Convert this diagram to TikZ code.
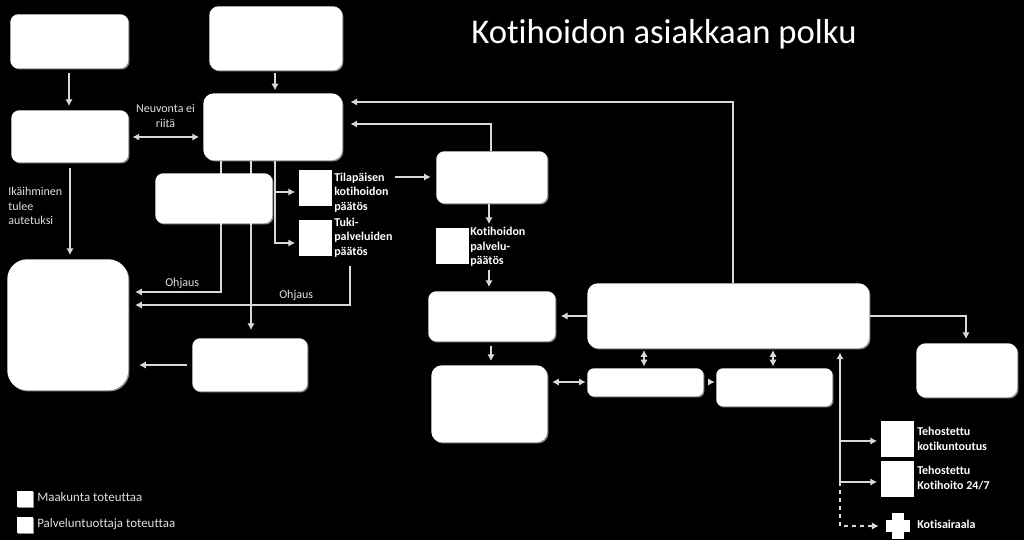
\documentclass[tikz,border=0pt]{standalone}
\usepackage{fontspec}
\setmainfont[Ligatures=NoCommon]{Carlito}
\usetikzlibrary{positioning,arrows.meta,calc,shadows}

\begin{document}
\begin{tikzpicture}[>={Latex[length=5pt,width=5.5pt]},
  x=0.75pt,y=-0.75pt,
  box/.style={fill=white,anchor=north west,inner sep=0pt,
    drop shadow={shadow xshift=0.9pt,shadow yshift=-0.9pt,fill=white,opacity=.55}},
  sq/.style={fill=white,anchor=north west,inner sep=0pt},
  lbl/.style={text=white!88!black,align=left,anchor=north west,inner sep=0pt,
    font=\fontsize{9}{10.9}\selectfont},
  bld/.style={lbl,text=white,font=\fontsize{9}{10.9}\selectfont\bfseries},
  line/.style={draw=white!85!black,line width=0.85pt},
  flow/.style={line,->,shorten >=3pt}]
\path[fill=black,use as bounding box] (0,0) rectangle (1024,540);
\node[text=white,font=\fontsize{26}{30}\selectfont,inner sep=0pt] (title) at (664,34) {Kotihoidon asiakkaan polku};
% boxes
\foreach \nm/\x/\y/\w/\h/\r in {alku/10/14/118/54/6pt, yhte/209/6/133/64/7pt,
  neuv/11/110/117/52/6pt, arvi/203/93/139/67/8pt, koti/7/259/121/131/15pt,
  muut/192/338/115/53/6pt, tila/436/151/111/52/6pt, suun/428/291/127/50/6pt,
  asia/431/365/116/77/8pt, toim/587/368/116/28/5pt, yksi/716/368/116/38/5pt,
  hoit/587/283/282/65/8pt, sair/916/343/101/54/7pt}{
  \node[box,rounded corners=\r,minimum width=\w*0.75pt,minimum height=\h*0.75pt] (\nm) at (\x,\y) {};
}
\foreach \nm/\x/\y in {ptila/299/170, ptuki/299/220, ppalv/436/228, pkunt/881/421, pkoti/881/461}{
  \node[sq,minimum width=24.5pt,minimum height=27pt] (\nm) at (\x,\y) {};
}
% labels
\node[lbl,align=center,anchor=north] (lneuv) at (165.5,104) {Neuvonta ei\\riitä};
\node[lbl] (lauto) at (8,187) {Ikäihminen\\tulee\\autetuksi};
\node[lbl] (lohj1) at (165,278) {Ohjaus};
\node[lbl] (lohj2) at (279,290) {Ohjaus};
\node[bld] (ltila) at (334,172.5) {Tilapäisen\\kotihoidon\\päätös};
\node[bld] (ltuki) at (334,217.5) {Tuki-\\palveluiden\\päätös};
\node[bld] (lpalv) at (470,227) {Kotihoidon\\palvelu-\\päätös};
\node[bld] (lkunt) at (917,427) {Tehostettu\\kotikuntoutus};
\node[bld] (lkoti) at (917,466) {Tehostettu\\Kotihoito 24/7};
\node[bld] (lsair) at (917,520) {Kotisairaala};
% bends
\coordinate (ohj1) at (221,292);
\coordinate (ohj2) at (350,305);
\coordinate (ret1) at (733,102);
\coordinate (ret2) at (491,124);
\coordinate (muu) at (251,330);
\coordinate (dec) at (275,243);
\coordinate (dec2) at (275,192);
\coordinate (sai) at (966,316);
\coordinate (teh) at (840,441);
\coordinate (teh2) at (840,482);
\coordinate (teh3) at (840,526);
\coordinate (gap) at (350,266);
% these two run behind the box drawn after them
\draw[flow,shorten >=5pt] (arvi.south -| ohj1) -- (ohj1) -- (koti.east |- ohj1);
\draw[flow,shorten >=0pt] (arvi.south -| muu) -- (muu);
\node[box,rounded corners=6pt,minimum width=117*0.75pt,minimum height=50*0.75pt] (paat) at (155,173) {};
\draw[flow,shorten <=3pt,shorten >=3pt] (alku.south -| 69,0) -- (neuv.north -| 69,0);
\draw[flow,shorten <=2pt,shorten >=2pt] (yhte.south -| 275,0) -- (arvi.north -| 275,0);
\draw[<->,line,shorten <=3pt,shorten >=3pt] (neuv.east |- 0,137) -- (arvi.west |- 0,137);
\draw[flow,shorten <=4pt] (neuv.south -| 70,0) -- (koti.north -| 70,0);
\draw[flow] (arvi.south -| dec) -- (dec) -- (ptuki.west |- dec);
\draw[flow] (dec2) -- (ptila.west |- dec2);
\draw[flow,shorten >=4pt] (ltila.east |- 0,177) ++(6,0) -- (tila.west |- 0,177);
\draw[flow,shorten >=5pt] (gap) -- (ohj2) -- (koti.east |- ohj2);
\draw[flow,shorten <=4pt,shorten >=8pt] (muut.west |- 0,365) -- (koti.east |- 0,365);
\draw[flow,shorten >=6pt] (tila.north -| ret2) -- (ret2) -- (arvi.east |- ret2);
\draw[flow,shorten >=6pt] (hoit.north -| ret1) -- (ret1) -- (arvi.east |- ret1);
\draw[flow] (tila.south -| 489,0) -- (ppalv.north -| 489,0);
\draw[flow,shorten <=4pt,shorten >=3pt] (ppalv.south -| 489,0) -- (suun.north -| 489,0);
\draw[flow,shorten >=4pt] (hoit.west |- 0,316) -- (suun.east |- 0,316);
\draw[flow,shorten <=3pt] (suun.south -| 491,0) -- (asia.north -| 491,0);
\draw[<->,line,shorten <=3.5pt,shorten >=1pt] (asia.east |- 0,382) -- (toim.west |- 0,382);
\draw[<->,line,shorten <=1.2pt,shorten >=1.2pt] (toim.north -| 644,0) -- (hoit.south -| 644,0);
\draw[<->,line,shorten <=1.2pt,shorten >=1.2pt] (yksi.north -| 773,0) -- (hoit.south -| 773,0);
\draw[flow,shorten <=3.5pt,shorten >=1pt] (toim.east |- 0,382) -- (yksi.west |- 0,382);
\draw[flow] (hoit.east |- sai) -- (sai) -- (sair.north -| sai);
\draw[flow] (teh2) -- (hoit.south -| teh2);
\draw[flow] (teh) -- (pkunt.west |- teh);
\draw[flow] (teh2) -- (pkoti.west |- teh2);
% cross
\node[sq,anchor=center,minimum width=9pt,minimum height=19pt] (krois) at (897.5,526) {};
\node[sq,anchor=center,minimum width=18pt,minimum height=9.5pt] (kroisb) at (897.5,526) {};
\draw[line,dashed,->,shorten >=5pt] (teh2) -- (teh3) -- (kroisb.west |- teh3);
% legend
\node[box,minimum width=11.5pt,minimum height=11.5pt] (lega) at (17,491) {};
\node[box,minimum width=11.5pt,minimum height=11.5pt] (legb) at (17,517) {};
\node[lbl,anchor=west,font=\fontsize{9.7}{11}\selectfont] (ltxa) at (37,497.5) {Maakunta toteuttaa};
\node[lbl,anchor=west,font=\fontsize{9.7}{11}\selectfont] (ltxb) at (37,524.5) {Palveluntuottaja toteuttaa};
\end{tikzpicture}
\end{document}
